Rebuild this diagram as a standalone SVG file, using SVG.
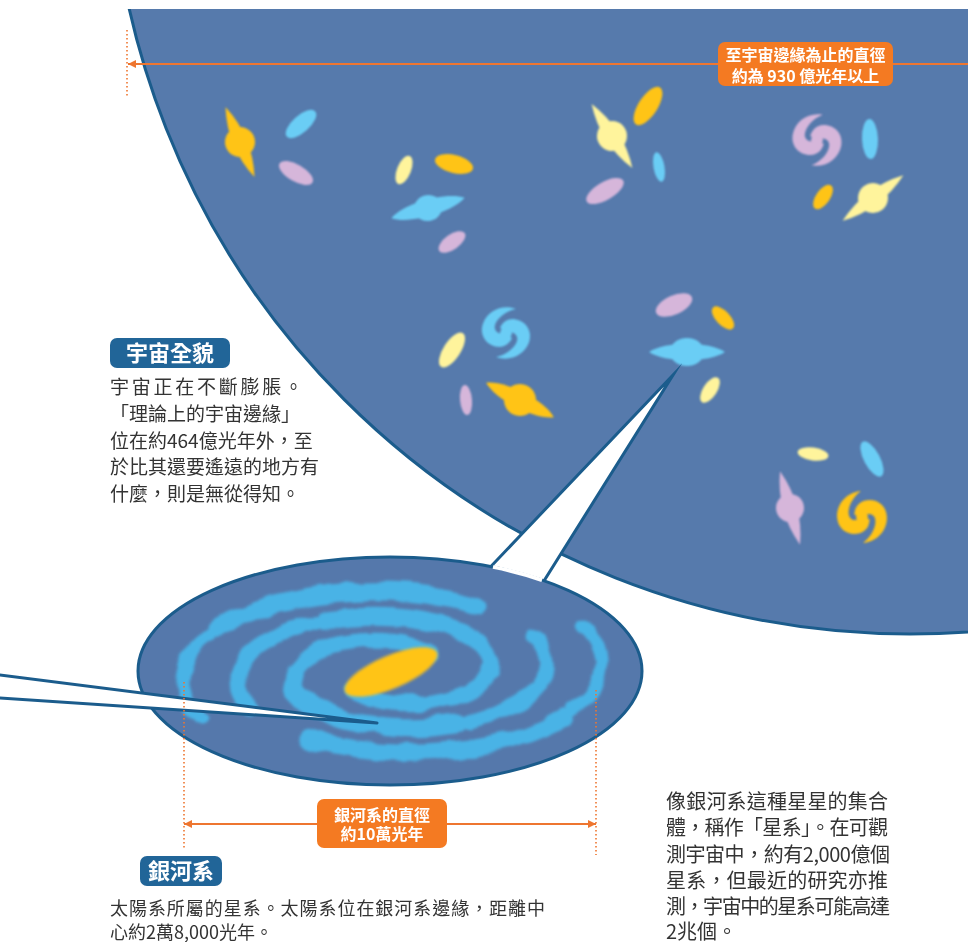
<svg xmlns="http://www.w3.org/2000/svg" xmlns:xlink="http://www.w3.org/1999/xlink" width="968" height="942" viewBox="0 0 968 942">
  <defs>
    <style>
      .edge { stroke: #1B5C8C; stroke-width: 3; }
      .y { fill: #FFC416; }
      .b { fill: #6ACDF5; }
      .p { fill: #D6B6DA; }
      .py { fill: #FFF49C; }
      .arm { fill: none; stroke: #4AB3E6; stroke-linecap: round; stroke-linejoin: round; }
      .dim { stroke: #EE7630; stroke-width: 2; fill: none; }
      .dot { stroke: #EE7630; stroke-width: 1.6; stroke-dasharray: 1.6 2.4; fill: none; }
      .obox { fill: #F47A22; }
      .bbox { fill: #216598; }
      .otext { font-family: "Noto Sans CJK TC", "Noto Sans CJK SC", sans-serif; font-weight: bold; font-size: 16px; fill: #fff; text-anchor: middle; }
      .title { font-family: "Noto Sans CJK TC", "Noto Sans CJK SC", sans-serif; font-weight: bold; font-size: 22px; fill: #fff; text-anchor: middle; }
      .body { font-family: "Noto Sans CJK TC", "Noto Sans CJK SC", sans-serif; font-size: 19px; fill: #333; }
    </style>
    <clipPath id="topclip"><rect x="0" y="9" width="968" height="933"/></clipPath>
    <clipPath id="diskclip"><ellipse cx="390" cy="671" rx="250" ry="112"/></clipPath>
    <filter id="soft" x="-10%" y="-10%" width="120%" height="120%"><feGaussianBlur stdDeviation="0.8"/></filter>
    <!-- wobbly, soft-edged spiral arms -->
    <filter id="wisp" x="-10%" y="-10%" width="120%" height="120%">
      <feTurbulence type="fractalNoise" baseFrequency="0.035" numOctaves="2" seed="4" result="noise"/>
      <feDisplacementMap in="SourceGraphic" in2="noise" scale="12" xChannelSelector="R" yChannelSelector="G" result="moved"/>
      <feGaussianBlur in="moved" stdDeviation="1.4"/>
    </filter>
    <filter id="softer" x="-10%" y="-10%" width="120%" height="120%"><feGaussianBlur stdDeviation="1.4"/></filter>
    <!-- thin tapering spike of a barred galaxy -->
    <path id="spikeA" d="M-38,0 Q0,-14 38,0 Q0,14 -38,0Z"/>
    <!-- flatter, blunter disk -->
    <path id="spikeB" d="M-38,0 C-22,-11 22,-11 38,0 C22,11 -22,11 -38,0Z"/>
    <!-- two-armed swirl -->
    <g id="swirl">
      <path d="M-1,-24 C-14,-23 -24,-12 -23,1 C-22,12 -12,18 -2,15 C4,13 7,8 7,2 L0,0 C-4,4 -10,4 -12,-1 C-14,-8 -9,-18 -1,-24Z"/>
      <path d="M1,24 C14,23 24,12 23,-1 C22,-12 12,-18 2,-15 C-4,-13 -7,-8 -7,-2 L0,0 C4,-4 10,-4 12,1 C14,8 9,18 1,24Z"/>
      <circle r="5.5"/>
    </g>
    <marker id="ah" viewBox="0 0 10 10" refX="10" refY="5" markerWidth="9" markerHeight="8" markerUnits="userSpaceOnUse" orient="auto-start-reverse">
      <path d="M0,0 L10,5 L0,10Z" fill="#EE7630"/>
    </marker>
  </defs>

  <rect width="968" height="942" fill="#fff"/>

  <!-- observable universe -->
  <g id="universe" clip-path="url(#topclip)">
    <circle cx="910" cy="-166" r="800" fill="#567AAC" class="edge"/>
  </g>

  <!-- galaxies scattered through the universe -->
  <g id="galaxies" filter="url(#soft)">
    <g class="y" transform="translate(240,142) rotate(67.5)"><use href="#spikeA"/><circle r="15"/></g>
    <ellipse class="b" cx="301" cy="124" rx="19" ry="8.5" transform="rotate(-41.5 301 124)"/>
    <ellipse class="p" cx="296" cy="173" rx="19" ry="8.5" transform="rotate(30 296 173)"/>
    <ellipse class="py" cx="404" cy="170" rx="15" ry="7" transform="rotate(-68 404 170)"/>
    <ellipse class="y" cx="454" cy="164" rx="19.5" ry="9" transform="rotate(14 454 164)"/>
    <g class="b" transform="translate(428,208) rotate(-15.5)"><use href="#spikeB"/><ellipse rx="14" ry="13"/></g>
    <ellipse class="p" cx="452" cy="242" rx="15.5" ry="7.5" transform="rotate(-35 452 242)"/>

    <g class="py" transform="translate(612,136) rotate(57.6)"><use href="#spikeA"/><circle r="15"/></g>
    <ellipse class="y" cx="648" cy="106" rx="22" ry="9.5" transform="rotate(-57 648 106)"/>
    <ellipse class="b" cx="659" cy="167" rx="15" ry="5.5" transform="rotate(80 659 167)"/>
    <ellipse class="p" cx="605" cy="191" rx="21" ry="9" transform="rotate(-30 605 191)"/>
    <use href="#swirl" class="p" transform="translate(817,140) rotate(15) scale(1.08)"/>
    <ellipse class="b" cx="870" cy="139" rx="20" ry="8" transform="rotate(88 870 139)"/>
    <ellipse class="y" cx="823" cy="197" rx="14" ry="7" transform="rotate(-55 823 197)"/>
    <g class="py" transform="translate(873,198) rotate(-36.9)"><use href="#spikeA"/><circle r="15"/></g>

    <use href="#swirl" class="b" transform="translate(506,333) rotate(25) scale(1.08)"/>
    <ellipse class="py" cx="452" cy="350" rx="20" ry="8.5" transform="rotate(-57 452 350)"/>
    <ellipse class="p" cx="466" cy="400" rx="15" ry="6" transform="rotate(85 466 400)"/>
    <g class="y" transform="translate(520,400) rotate(27)"><use href="#spikeB"/><circle r="16"/></g>
    <ellipse class="p" cx="674" cy="305" rx="19.5" ry="9.5" transform="rotate(-24 674 305)"/>
    <ellipse class="y" cx="723" cy="318" rx="14.5" ry="7" transform="rotate(47 723 318)"/>
    <g class="b" transform="translate(687,352)"><use href="#spikeB"/><ellipse rx="17" ry="14"/></g>
    <ellipse class="py" cx="710" cy="390" rx="14.5" ry="7" transform="rotate(-57 710 390)"/>

    <ellipse class="py" cx="813" cy="454" rx="15.5" ry="6.5" transform="rotate(8 813 454)"/>
    <ellipse class="b" cx="872" cy="459" rx="19.5" ry="8" transform="rotate(62 872 459)"/>
    <g class="p" transform="translate(790,508) rotate(74.7)"><use href="#spikeA"/><circle r="14"/></g>
    <use href="#swirl" class="y" transform="translate(862,517) scale(1.08)"/>
  </g>

  <!-- zoom-in cone from the Milky Way up to its place in the universe -->
  <g id="pointers">
    <polygon points="673,375 478,580 537,592" fill="#fff" class="edge" stroke-linejoin="miter" stroke-miterlimit="14"/>
  </g>

  <!-- Milky Way -->
  <g id="milky-way">
    <ellipse cx="390" cy="671" rx="252" ry="114" fill="#5578AB" class="edge" stroke-width="3.5"/>
    <g clip-path="url(#diskclip)">
      <g filter="url(#wisp)">
        <g id="arm-a" class="arm">
          <path d="M350.3,689.7 Q373.3,700.6 392,702.8 Q410.7,705 431.5,702.3 Q452.3,699.5 468.5,691.6 Q484.6,683.7 489.7,672.2" stroke-width="15"/>
          <path d="M489.7,672.2 Q494.8,660.7 485,648.7 Q475.1,636.6 450.9,627.9 Q426.6,619.1 393,616.8 Q359.4,614.5 325.5,620.4" stroke-width="19"/>
          <path d="M316,622 Q291.6,626.3 267.8,639.8 Q244,653.3 238.7,671.4 Q233.3,689.4 250.4,707.2" stroke-width="16"/>
          <path d="M306,737.2 Q341.6,749.3 390.1,751.7 Q438.6,754.1 485.5,745 Q532.4,735.9 563.9,716.8" stroke-width="17"/>
          <path d="M572,710 Q595.3,697.7 601,673.1 Q606.6,648.4 582.3,624.9" stroke-width="13"/>
        </g>
        <use href="#arm-a" transform="rotate(180 392 672)"/>
      </g>
      <ellipse cx="391" cy="672" rx="50" ry="16.5" transform="rotate(-23 391 672)" fill="#FFC416" filter="url(#softer)"/>
    </g>
    <!-- open mouth where the cone meets the disk -->
    <path d="M493,567 A252,114 0 0 1 542,580.1" fill="none" stroke="#fff" stroke-width="3.8"/>
  </g>

  <!-- pointer to the Sun's position -->
  <g id="sun-pointer">
    <polygon points="-6,674.2 377,723 -6,697.6" fill="#fff" class="edge" stroke-linejoin="round"/>
  </g>

  <!-- dimension lines -->
  <g id="dimensions">
    <line class="dot" x1="127" y1="30" x2="127" y2="97"/>
    <line class="dim" x1="968" y1="64" x2="128" y2="64" marker-end="url(#ah)"/>
    <line class="dot" x1="184" y1="682" x2="184" y2="848"/>
    <line class="dot" x1="596" y1="690" x2="596" y2="855"/>
    <line class="dim" x1="184" y1="824" x2="596" y2="824" marker-start="url(#ah)" marker-end="url(#ah)"/>
  </g>

  <g id="universe-diameter">
    <rect class="obox" x="718" y="42" width="175" height="44" rx="7"/>
    <text class="otext" x="805.5" y="61">至宇宙邊緣為止的直徑</text>
    <text class="otext" x="805.5" y="82">約為 930 億光年以上</text>
  </g>

  <g id="galaxy-diameter">
    <rect class="obox" x="317" y="799" width="130" height="49" rx="7"/>
    <text class="otext" x="382" y="821">銀河系的直徑</text>
    <text class="otext" x="382" y="840">約10萬光年</text>
  </g>

  <g id="universe-note">
    <rect class="bbox" x="110" y="338" width="120" height="30" rx="7"/>
    <text class="title" x="170" y="361">宇宙全貌</text>
    <text class="body">
      <tspan x="110" y="394" textLength="193" lengthAdjust="spacing">宇宙正在不斷膨脹。</tspan>
      <tspan x="110" y="421">「理論上的宇宙邊緣」</tspan>
      <tspan x="110" y="448">位在約464億光年外，至</tspan>
      <tspan x="110" y="474">於比其還要遙遠的地方有</tspan>
      <tspan x="110" y="501">什麼，則是無從得知。</tspan>
    </text>
  </g>

  <g id="milky-way-note">
    <rect class="bbox" x="140" y="856" width="82" height="30" rx="7"/>
    <text class="title" x="181" y="879">銀河系</text>
    <text class="body" style="font-size:18px">
      <tspan x="110" y="915" textLength="435" lengthAdjust="spacing">太陽系所屬的星系。太陽系位在銀河系邊緣，距離中</tspan>
      <tspan x="110" y="939">心約2萬8,000光年。</tspan>
    </text>
  </g>

  <g id="galaxy-note">
    <text class="body" style="font-size:20px">
      <tspan x="666" y="809" textLength="222" lengthAdjust="spacing">像銀河系這種星星的集合</tspan>
      <tspan x="666" y="835" textLength="222" lengthAdjust="spacing">體，稱作「星系」。在可觀</tspan>
      <tspan x="666" y="862" textLength="224" lengthAdjust="spacing">測宇宙中，約有2,000億個</tspan>
      <tspan x="666" y="888" textLength="222" lengthAdjust="spacing">星系，但最近的研究亦推</tspan>
      <tspan x="666" y="914" textLength="224" lengthAdjust="spacing">測，宇宙中的星系可能高達</tspan>
      <tspan x="666" y="939">2兆個。</tspan>
    </text>
  </g>
</svg>
